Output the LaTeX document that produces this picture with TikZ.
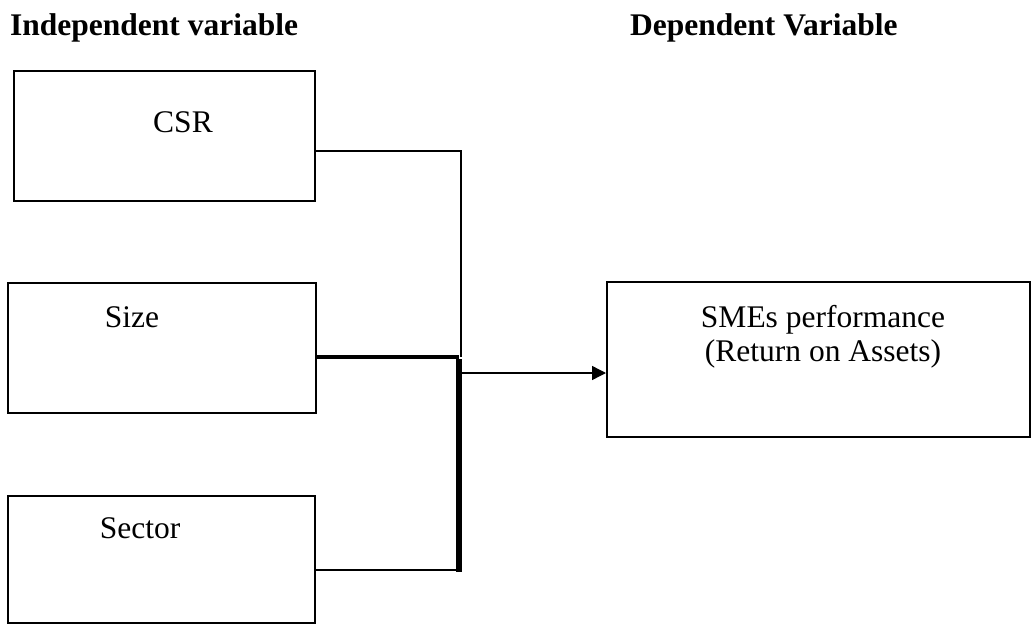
\documentclass[tikz,border=0pt]{standalone}
\usepackage{fontspec}
\setmainfont{Liberation Serif}
\usetikzlibrary{arrows.meta,calc}
\begin{document}
\begin{tikzpicture}[x=1pt,y=-1pt,
  box/.style={draw, line width=2pt, rectangle, inner sep=0pt},
  lbl/.style={anchor=base, inner sep=0pt, font=\fontsize{31.5}{38}\selectfont},
  hdr/.style={anchor=base west, inner sep=0pt, font=\fontsize{31.5}{38}\selectfont\bfseries},
  thin/.style={line width=1.4pt},
]
\useasboundingbox (0,0) rectangle (1031,624);
% headers
\node[hdr] (hind) at (10,35) {Independent variable};
\node[hdr] (hdep) at (630,35) {Dependent Variable};
% boxes
\node[box, minimum width=301pt, minimum height=130pt] (csr) at (164.5,136) {};
\node[box, minimum width=308pt, minimum height=130pt] (size) at (162,348) {};
\node[box, minimum width=307pt, minimum height=127pt] (sector) at (161.5,559) {};
\node[box, minimum width=423pt, minimum height=155pt] (sme) at (818.5,359.5) {};
% texts
\node[lbl] (tcsr) at (183,132) {CSR};
\node[lbl] (tsize) at (132,327) {Size};
\node[lbl] (tsector) at (140,538) {Sector};
\node[lbl] (tsme1) at (823,327) {SMEs performance};
\node[lbl] (tsme2) at (823,361) {(Return on Assets)};
% junction coordinates
\coordinate (jtop) at (461,151);
\coordinate (jmid) at (461,357);
\coordinate (bmid) at (459,357);
\coordinate (bbot) at (459,572);
\coordinate (aout) at (461,373);
% connectors
\draw[thin] (csr.east |- jtop) -- (jtop) -- (jmid);
\draw[line width=4pt] (size.east |- jmid) -- (bmid);
\draw[line width=6pt] ([yshift=-2pt]bmid) -- (bbot);
\draw[line width=2pt] (sector.east |- 0,570) -- (456,570);
\draw[thin, -{Triangle[length=14pt,width=14pt]}] (aout) -- (sme.west |- aout);
\end{tikzpicture}
\end{document}
